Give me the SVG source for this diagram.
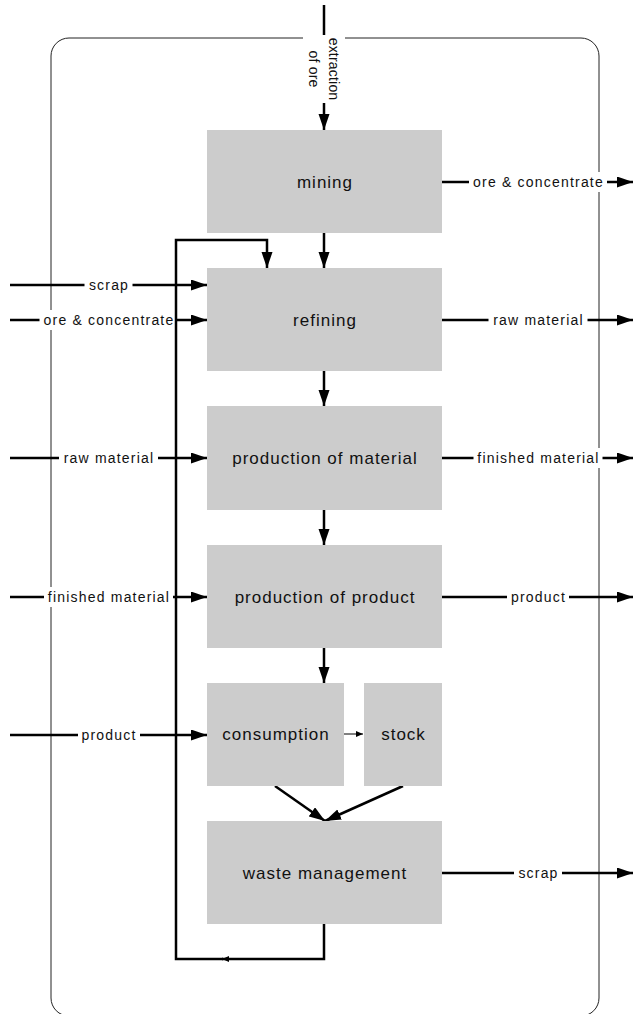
<svg xmlns="http://www.w3.org/2000/svg" width="633" height="1014" viewBox="0 0 633 1014">
<style>
.box{fill:#cccccc;stroke:none}
.nt{font-family:"Liberation Sans",Arial,sans-serif;font-size:17px;letter-spacing:1px;fill:#111;text-anchor:middle}
.et{font-family:"Liberation Sans",Arial,sans-serif;font-size:14px;letter-spacing:1.2px;fill:#111;text-anchor:middle}
.rt{font-family:"Liberation Sans",Arial,sans-serif;font-size:14px;letter-spacing:0.2px;fill:#111;text-anchor:middle}
.bg{fill:#ffffff;stroke:none}
.ln{fill:none;stroke:#000;stroke-width:2.5}
.thin{fill:none;stroke:#000;stroke-width:1}
</style>
<defs>
<marker id="ah" markerUnits="userSpaceOnUse" markerWidth="16" markerHeight="12" refX="16" refY="5.5" orient="auto">
<path d="M0,0 L16,5.5 L0,11 z" fill="#000"/>
</marker>
<marker id="as" markerUnits="userSpaceOnUse" markerWidth="8" markerHeight="7" refX="7" refY="3" orient="auto">
<path d="M0,0 L7,3 L0,6 z" fill="#000"/>
</marker>
</defs>
<rect x="51" y="38" width="548" height="978" rx="18" ry="18" fill="none" stroke="#222" stroke-width="1"/>
<g id="connectors">
<line class="ln" x1="324" y1="5" x2="324" y2="130" marker-end="url(#ah)"/>
<rect class="bg" x="303" y="35" width="42" height="68"/>
<g transform="translate(323,69) rotate(90)">
<text class="rt" x="0" y="-5.5">extraction</text>
<text class="rt" x="0" y="14.5">of ore</text>
</g>
<line class="ln" x1="324" y1="233" x2="324" y2="268" marker-end="url(#ah)"/>
<line class="ln" x1="324" y1="371" x2="324" y2="406" marker-end="url(#ah)"/>
<line class="ln" x1="324" y1="510" x2="324" y2="545" marker-end="url(#ah)"/>
<line class="ln" x1="324" y1="648" x2="324" y2="683" marker-end="url(#ah)"/>
<line class="thin" x1="344" y1="734" x2="363" y2="734" marker-end="url(#as)"/>
<line class="ln" x1="275" y1="786" x2="325" y2="821" marker-end="url(#ah)"/>
<line class="ln" x1="403" y1="786" x2="325" y2="821" marker-end="url(#ah)"/>
<line class="ln" x1="10" y1="285" x2="207" y2="285" marker-end="url(#ah)"/>
<line class="ln" x1="10" y1="320" x2="207" y2="320" marker-end="url(#ah)"/>
<line class="ln" x1="10" y1="458" x2="207" y2="458" marker-end="url(#ah)"/>
<line class="ln" x1="10" y1="597" x2="207" y2="597" marker-end="url(#ah)"/>
<line class="ln" x1="10" y1="735" x2="207" y2="735" marker-end="url(#ah)"/>
<line class="ln" x1="441" y1="182" x2="633" y2="182" marker-end="url(#ah)"/>
<line class="ln" x1="441" y1="320" x2="633" y2="320" marker-end="url(#ah)"/>
<line class="ln" x1="441" y1="458" x2="633" y2="458" marker-end="url(#ah)"/>
<line class="ln" x1="441" y1="597" x2="633" y2="597" marker-end="url(#ah)"/>
<line class="ln" x1="441" y1="873" x2="633" y2="873" marker-end="url(#ah)"/>
<rect class="bg" x="84.5" y="275" width="48" height="20"/>
<text class="et" x="109" y="290">scrap</text>
<rect class="bg" x="39.5" y="310" width="137" height="20"/>
<text class="et" x="109" y="325">ore &amp; concentrate</text>
<rect class="bg" x="59" y="448" width="99" height="20"/>
<text class="et" x="109" y="463">raw material</text>
<rect class="bg" x="44" y="587" width="129" height="20"/>
<text class="et" x="109" y="602">finished material</text>
<rect class="bg" x="78" y="725" width="62" height="20"/>
<text class="et" x="109" y="740">product</text>
<rect class="bg" x="469" y="172" width="138" height="20"/>
<text class="et" x="538.5" y="187">ore &amp; concentrate</text>
<rect class="bg" x="488.5" y="310" width="99" height="20"/>
<text class="et" x="538.5" y="325">raw material</text>
<rect class="bg" x="473.5" y="448" width="129" height="20"/>
<text class="et" x="538.5" y="463">finished material</text>
<rect class="bg" x="507" y="587" width="62" height="20"/>
<text class="et" x="538.5" y="602">product</text>
<rect class="bg" x="514" y="863" width="48" height="20"/>
<text class="et" x="538.5" y="878">scrap</text>
<path class="ln" d="M324,924 V959 H222" marker-end="url(#as)"/>
<path class="ln" d="M223,959 H176 V240 H267 V268" marker-end="url(#ah)"/>
</g>
<g id="mining"><rect class="box" x="207" y="130" width="235" height="103"/><text class="nt" x="325" y="188">mining</text></g>
<g id="refining"><rect class="box" x="207" y="268" width="235" height="103"/><text class="nt" x="325" y="326">refining</text></g>
<g id="production-of-material"><rect class="box" x="207" y="406" width="235" height="104"/><text class="nt" x="325" y="464">production of material</text></g>
<g id="production-of-product"><rect class="box" x="207" y="545" width="235" height="103"/><text class="nt" x="325" y="603">production of product</text></g>
<g id="consumption"><rect class="box" x="207" y="683" width="137" height="103"/><text class="nt" x="276" y="740">consumption</text></g>
<g id="stock"><rect class="box" x="364" y="683" width="78" height="103"/><text class="nt" x="403.5" y="740">stock</text></g>
<g id="waste-management"><rect class="box" x="207" y="821" width="235" height="103"/><text class="nt" x="325" y="879">waste management</text></g>
</svg>
